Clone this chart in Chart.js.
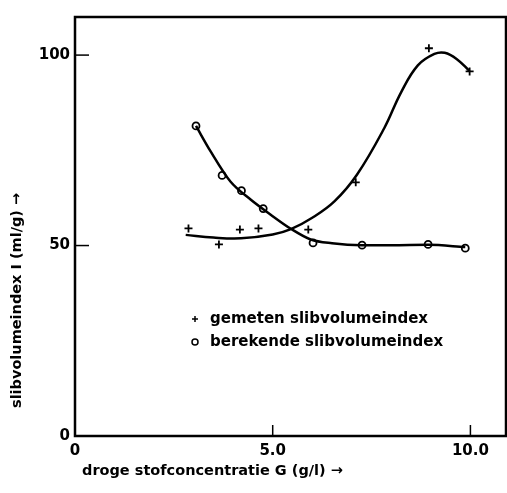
<!DOCTYPE html>
<html>
<head>
<meta charset="utf-8">
<script src="https://cdn.jsdelivr.net/npm/chart.js@4"></script>
<style>
  html, body { margin: 0; padding: 0; background: #fff; }
  canvas { display: block; }
</style>
</head>
<body>
<canvas id="chart" width="507" height="493"></canvas>
<script>
// measured values (+)
const gemetenX = [2.87, 3.64, 4.17, 4.64, 5.9, 7.1, 8.95, 9.98];
const gemetenY = [54.5, 50.3, 54.2, 54.5, 54.2, 66.6, 101.8, 95.7];

// hand-drawn fit through the measured values
const gemetenCurveX = [2.8, 3.5, 4.2, 5.0, 5.46, 6.0, 6.56, 7.13, 7.82, 8.25, 8.67, 9.09, 9.35, 9.65, 9.98];
const gemetenCurveY = [52.8, 52.1, 51.9, 52.9, 54.3, 57.3, 61.6, 68.6, 80.8, 90.3, 97.3, 100.3, 100.6, 99.0, 95.8];

// calculated values (o)
const berekendX = [3.06, 3.72, 4.21, 4.76, 6.02, 7.26, 8.93, 9.87];
const berekendY = [81.4, 68.4, 64.4, 59.7, 50.7, 50.1, 50.3, 49.3];

// hand-drawn curve through the calculated values
const berekendCurveX = [3.06, 3.43, 3.93, 4.44, 4.95, 5.46, 5.96, 6.5, 7.26, 8.0, 8.93, 9.87];
const berekendCurveY = [81.4, 74.7, 66.8, 62.1, 58.1, 54.4, 51.6, 50.6, 50.1, 50.1, 50.2, 49.6];

const xTicks = [0, 5, 10];
const xTickLabels = ['0', '5.0', '10.0'];
const yTicks = [0, 50, 100];
const yTickLabels = ['0', '50', '100'];

const legendLabels = ['gemeten slibvolumeindex', 'berekende slibvolumeindex'];
const xTitle = 'droge stofconcentratie G (g/l) \u2192';
const yTitle = 'slibvolumeindex I (ml/g) \u2192';

const FONT = '"DejaVu Sans", sans-serif';

function toPoints(xs, ys) {
    return xs.map((x, i) => ({ x: x, y: ys[i] }));
}

// frame, inward tick marks, axis titles and the legend inside the plot
const paperPlugin = {
    id: 'paper',
    afterDraw(chart) {
        const ctx = chart.ctx;
        const { left, right, top, bottom } = chart.chartArea;
        const xs = chart.scales.x;
        const ys = chart.scales.y;

        ctx.save();
        ctx.strokeStyle = '#000';
        ctx.lineWidth = 2.5;
        ctx.strokeRect(left, top, right - left, bottom - top);

        ctx.lineWidth = 1.5;
        xTicks.forEach(v => {
            const px = xs.getPixelForValue(v);
            ctx.beginPath();
            ctx.moveTo(px, bottom);
            ctx.lineTo(px, bottom - 11);
            ctx.stroke();
        });
        yTicks.forEach(v => {
            const py = ys.getPixelForValue(v);
            ctx.beginPath();
            ctx.moveTo(left, py);
            ctx.lineTo(left + 14, py);
            ctx.stroke();
        });

        // axis titles
        ctx.fillStyle = '#000';
        ctx.font = 'bold 14.5px ' + FONT;
        ctx.textBaseline = 'middle';
        ctx.textAlign = 'left';
        ctx.fillText(xTitle, left + 7, 471);

        ctx.save();
        ctx.translate(17, 408);
        ctx.rotate(-Math.PI / 2);
        ctx.fillText(yTitle, 0, 0);
        ctx.restore();

        // legend
        const items = chart.legend.legendItems.filter(it => it.text);
        ctx.font = 'bold 15px ' + FONT;
        items.forEach((it, i) => {
            const y = 319 + i * 23;
            const mx = 195;
            ctx.lineWidth = 1.5;
            ctx.strokeStyle = '#000';
            ctx.beginPath();
            if (it.pointStyle === 'cross') {
                ctx.moveTo(mx - 3, y); ctx.lineTo(mx + 3, y);
                ctx.moveTo(mx, y - 3); ctx.lineTo(mx, y + 3);
            } else {
                ctx.arc(mx, y, 3, 0, Math.PI * 2);
            }
            ctx.stroke();
            ctx.fillText(it.text, 210, y);
        });
        ctx.restore();
    }
};

new Chart(document.getElementById('chart'), {
    type: 'scatter',
    data: {
        datasets: [
            {
                label: '',
                data: toPoints(gemetenCurveX, gemetenCurveY),
                showLine: true,
                pointRadius: 0,
                borderColor: '#000',
                borderWidth: 2.5,
                tension: 0.4
            },
            {
                label: '',
                data: toPoints(berekendCurveX, berekendCurveY),
                showLine: true,
                pointRadius: 0,
                borderColor: '#000',
                borderWidth: 2.5,
                cubicInterpolationMode: 'monotone'
            },
            {
                label: legendLabels[0],
                data: toPoints(gemetenX, gemetenY),
                showLine: false,
                pointStyle: 'cross',
                pointRadius: 4,
                borderColor: '#000',
                borderWidth: 1.8,
                backgroundColor: '#000'
            },
            {
                label: legendLabels[1],
                data: toPoints(berekendX, berekendY),
                showLine: false,
                pointStyle: 'circle',
                pointRadius: 3.5,
                borderWidth: 1.8,
                borderColor: '#000',
                backgroundColor: '#fff'
            }
        ]
    },
    options: {
        responsive: false,
        animation: false,
        layout: { autoPadding: false, padding: { top: 17, right: 1, left: 0, bottom: 0 } },
        plugins: {
            legend: { display: false },
            tooltip: { enabled: false }
        },
        scales: {
            x: {
                type: 'linear',
                min: 0,
                max: 10.9,
                grid: { display: false, drawTicks: false },
                border: { display: false },
                afterBuildTicks: s => { s.ticks = xTicks.map(v => ({ value: v })); },
                afterFit: s => { s.height = 57; s.paddingLeft = 0; s.paddingRight = 0; },
                ticks: {
                    padding: 6,
                    maxRotation: 0,
                    color: '#000',
                    font: { family: FONT, size: 15, weight: 'bold' },
                    callback: v => xTickLabels[xTicks.indexOf(v)]
                }
            },
            y: {
                type: 'linear',
                min: 0,
                max: 110,
                grid: { display: false, drawTicks: false },
                border: { display: false },
                afterBuildTicks: s => { s.ticks = yTicks.map(v => ({ value: v })); },
                afterFit: s => { s.width = 75; },
                ticks: {
                    padding: 5,
                    color: '#000',
                    font: { family: FONT, size: 15, weight: 'bold' },
                    callback: v => yTickLabels[yTicks.indexOf(v)]
                }
            }
        }
    },
    plugins: [paperPlugin]
});
</script>
</body>
</html>
